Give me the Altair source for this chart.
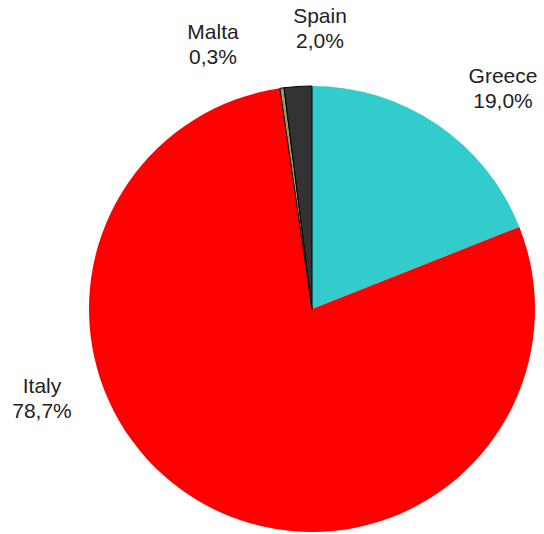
import altair as alt
import pandas as pd

countries = ["Greece", "Italy", "Malta", "Spain"]
shares = [19.0, 78.7, 0.3, 2.0]
share_labels = ["19,0%", "78,7%", "0,3%", "2,0%"]
colors = ["#33CCCC", "#FF0000", "#999966", "#333333"]

df = pd.DataFrame({
    "country": countries,
    "share": shares,
    "order": list(range(len(countries))),
    "label": [f"{c}\n{s}" for c, s in zip(countries, share_labels)],
})

cx, cy, r = 312, 309, 223

pie = alt.Chart(df).mark_arc(outerRadius=r, x=cx, y=cy).encode(
    theta=alt.Theta("share:Q", stack=True),
    order=alt.Order("order:Q"),
    color=alt.Color("country:N", scale=alt.Scale(domain=countries, range=colors), legend=None),
    stroke=alt.condition(alt.FieldOneOfPredicate(field="country", oneOf=["Malta", "Spain"]),
                         alt.value("#000000"), alt.value(None)),
    strokeWidth=alt.condition(alt.FieldOneOfPredicate(field="country", oneOf=["Malta", "Spain"]),
                              alt.value(1), alt.value(0)),
)

label_pos = {"Greece": (503, 83), "Italy": (42, 393), "Malta": (213, 39), "Spain": (320, 23)}

layers = [pie]
for c in countries:
    x, y = label_pos[c]
    layers.append(
        alt.Chart(df).transform_filter(alt.datum.country == c).mark_text(
            x=x, y=y, align="center", baseline="alphabetic", fontSize=21,
            font="Liberation Sans", lineBreak="\n", lineHeight=25, color="#222222"
        ).encode(text="label:N")
    )

chart = alt.layer(*layers).properties(
    width=544, height=534, autosize=alt.AutoSizeParams(type="none"), padding=0
).configure_view(stroke=None)

chart.save("out.html", embed_options={"renderer": "svg", "actions": False})
